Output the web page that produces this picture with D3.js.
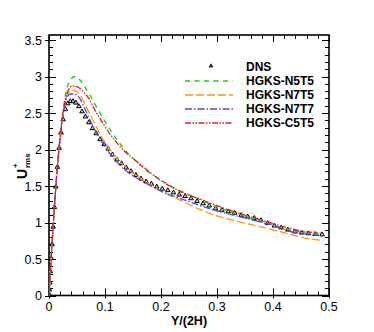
<!DOCTYPE html>
<html>
<head>
<meta charset="utf-8">
<script src="https://cdn.jsdelivr.net/npm/d3@7"></script>
<style>
  html, body { margin: 0; padding: 0; background: #fff; }
  svg { display: block; font-family: "Liberation Sans", Arial, sans-serif; }
</style>
</head>
<body>
<div id="chart"></div>
<script>
// DNS (triangles)
const dnsX = [0, 0.00015, 0.0006, 0.00135, 0.0024, 0.0038, 0.0054, 0.0074, 0.0096, 0.0121,
  0.0150, 0.0181, 0.0215, 0.0252, 0.0292, 0.0335, 0.0381, 0.0429, 0.0480, 0.0534,
  0.0590, 0.0650, 0.0711, 0.0776, 0.0843, 0.0912, 0.0984, 0.1058, 0.1135, 0.1214,
  0.1295, 0.1379, 0.1464, 0.1552, 0.1642, 0.1734, 0.1828, 0.1924, 0.2021, 0.2121,
  0.2222, 0.2325, 0.2430, 0.2536, 0.2643, 0.2752, 0.2862, 0.2974, 0.3087, 0.3201,
  0.3316, 0.3432, 0.3549, 0.3666, 0.3785, 0.3905, 0.4025, 0.4145, 0.4266, 0.4388,
  0.4510, 0.4632, 0.4755, 0.4877]
const dnsU = [0, 0.02, 0.08, 0.175, 0.33, 0.51, 0.70, 0.94, 1.21, 1.49,
  1.76, 2.02, 2.23, 2.41, 2.55, 2.63, 2.66, 2.66, 2.64, 2.59,
  2.52, 2.45, 2.37, 2.29, 2.22, 2.14, 2.07, 2.01, 1.93, 1.86,
  1.81, 1.75, 1.70, 1.65, 1.60, 1.56, 1.53, 1.49, 1.46, 1.44,
  1.41, 1.38, 1.36, 1.33, 1.29, 1.26, 1.23, 1.19, 1.17, 1.15,
  1.13, 1.10, 1.08, 1.06, 1.03, 0.99, 0.955, 0.93, 0.90, 0.875,
  0.86, 0.85, 0.84, 0.835]

// HGKS-N5T5
const n5t5X = [0, 0.002, 0.004, 0.006, 0.008, 0.010, 0.012, 0.015, 0.018, 0.021, 0.025, 0.029, 0.032, 0.038,
  0.046, 0.053, 0.062, 0.074, 0.085, 0.097, 0.112, 0.127, 0.142, 0.157, 0.174, 0.192, 0.21, 0.227,
  0.245, 0.27, 0.30, 0.33, 0.36, 0.39, 0.42, 0.45, 0.47, 0.49]
const n5t5U = [0, 0.27, 0.53, 0.78, 1.02, 1.25, 1.47, 1.77, 2.03, 2.27, 2.52, 2.73, 2.84, 2.95,
  3.0, 2.97, 2.88, 2.73, 2.58, 2.42, 2.24, 2.08, 1.94, 1.83, 1.71, 1.62, 1.535, 1.46,
  1.40, 1.31, 1.21, 1.13, 1.06, 0.99, 0.92, 0.87, 0.845, 0.83]

// HGKS-N7T5
const n7t5X = [0, 0.002, 0.004, 0.006, 0.008, 0.010, 0.012, 0.015, 0.018, 0.021, 0.025, 0.029, 0.034,
  0.040, 0.048, 0.056, 0.068, 0.080, 0.094, 0.112, 0.130, 0.151, 0.169, 0.20, 0.233, 0.269, 0.304,
  0.34, 0.37, 0.40, 0.43, 0.455, 0.49]
const n7t5U = [0, 0.27, 0.53, 0.78, 1.02, 1.25, 1.47, 1.77, 2.02, 2.24, 2.49, 2.66, 2.77,
  2.81, 2.80, 2.74, 2.56, 2.38, 2.17, 1.97, 1.81, 1.67, 1.58, 1.43, 1.31, 1.18, 1.08,
  1.01, 0.955, 0.90, 0.84, 0.79, 0.755]

// HGKS-N7T7
const n7t7X = [0, 0.002, 0.004, 0.006, 0.008, 0.010, 0.012, 0.015, 0.018, 0.021, 0.025, 0.029, 0.033,
  0.038, 0.045, 0.053, 0.065, 0.0765, 0.091, 0.109, 0.127, 0.148, 0.17, 0.20, 0.23, 0.26, 0.29,
  0.32, 0.36, 0.40, 0.43, 0.46, 0.49]
const n7t7U = [0, 0.27, 0.53, 0.78, 1.02, 1.25, 1.47, 1.77, 2.02, 2.23, 2.47, 2.63, 2.72,
  2.76, 2.76, 2.72, 2.54, 2.35, 2.15, 1.94, 1.78, 1.65, 1.55, 1.43, 1.34, 1.26, 1.18,
  1.12, 1.04, 0.96, 0.88, 0.84, 0.815]

// HGKS-C5T5
const c5t5X = [0, 0.002, 0.004, 0.006, 0.008, 0.010, 0.012, 0.015, 0.018, 0.021, 0.025, 0.029, 0.034,
  0.041, 0.050, 0.059, 0.071, 0.082, 0.097, 0.115, 0.133, 0.151, 0.169, 0.195, 0.233, 0.27, 0.30,
  0.33, 0.36, 0.39, 0.42, 0.45, 0.47, 0.49]
const c5t5U = [0, 0.27, 0.53, 0.78, 1.02, 1.25, 1.47, 1.77, 2.02, 2.25, 2.50, 2.68, 2.80,
  2.87, 2.86, 2.81, 2.70, 2.54, 2.35, 2.15, 1.99, 1.87, 1.76, 1.60, 1.43, 1.32, 1.23,
  1.15, 1.08, 1.01, 0.94, 0.885, 0.865, 0.85]

const xTicks = [0, 0.1, 0.2, 0.3, 0.4, 0.5]
const yTicks = [0, 0.5, 1, 1.5, 2, 2.5, 3, 3.5]
const legendNames = ['DNS', 'HGKS-N5T5', 'HGKS-N7T5', 'HGKS-N7T7', 'HGKS-C5T5']

const zip = (xs, ys) => xs.map((x, i) => ({x, y: ys[i]}))

const series = [
  {name: legendNames[1], data: zip(n5t5X, n5t5U), color: '#10d010', dash: '5,4.5'},
  {name: legendNames[2], data: zip(n7t5X, n7t5U), color: '#ff9410', dash: '8,3'},
  {name: legendNames[3], data: zip(n7t7X, n7t7U), color: '#4a4aff', dash: '7,2,1.5,2'},
  {name: legendNames[4], data: zip(c5t5X, c5t5U), color: '#e81c1c', dash: '6,1.5,1.5,1.5,1.5,1.5'}
]
const dns = zip(dnsX, dnsU)

const width = 374, height = 332
const pLeft = 49, pRight = 329, pTop = 35, pBottom = 295.5

const x = d3.scaleLinear().domain([0, 0.5]).range([pLeft, pRight])
const y = d3.scaleLinear().domain([0, 3.5]).range([pBottom, 40])

const svg = d3.select('#chart').append('svg')
  .attr('width', width).attr('height', height)

svg.append('defs').append('clipPath').attr('id', 'clip')
  .append('rect').attr('x', pLeft).attr('y', pTop)
  .attr('width', pRight - pLeft).attr('height', pBottom - pTop)

// ticks
const xMinor = d3.range(0, 0.5001, 0.02)
const yMinor = d3.range(0, 3.5601, 0.1)
const tickG = svg.append('g').attr('stroke', '#000').attr('stroke-width', 1)

xMinor.forEach(v => {
  const major = xTicks.some(t => Math.abs(t - v) < 1e-6)
  const len = major ? 7 : 4
  const px = Math.round(x(v)) + 0.5
  tickG.append('line').attr('x1', px).attr('x2', px).attr('y1', pBottom).attr('y2', pBottom - len)
  tickG.append('line').attr('x1', px).attr('x2', px).attr('y1', pTop).attr('y2', pTop + len)
  if (major) tickG.append('line').attr('x1', px).attr('x2', px).attr('y1', pBottom).attr('y2', pBottom + 3)
})
yMinor.forEach(v => {
  const major = yTicks.some(t => Math.abs(t - v) < 1e-6)
  const len = major ? 7 : 4
  const py = Math.round(y(v)) + 0.5
  tickG.append('line').attr('x1', pLeft).attr('x2', pLeft + len).attr('y1', py).attr('y2', py)
  tickG.append('line').attr('x1', pRight).attr('x2', pRight - len).attr('y1', py).attr('y2', py)
  if (major) tickG.append('line').attr('x1', pLeft).attr('x2', pLeft - 4).attr('y1', py).attr('y2', py)
})

// frame
svg.append('rect')
  .attr('x', pLeft).attr('y', pTop)
  .attr('width', pRight - pLeft).attr('height', pBottom - pTop)
  .attr('fill', 'none').attr('stroke', '#000').attr('stroke-width', 1.6)

// tick labels
svg.append('g').selectAll('text').data(xTicks).join('text')
  .attr('x', d => x(d)).attr('y', 311)
  .attr('text-anchor', 'middle').attr('font-size', 12.5)
  .text(d => d)
svg.append('g').selectAll('text').data(yTicks).join('text')
  .attr('x', 42).attr('y', d => y(d) + 4.5)
  .attr('text-anchor', 'end').attr('font-size', 12.5)
  .text(d => d)

// axis titles
svg.append('text').attr('x', 189).attr('y', 325)
  .attr('text-anchor', 'middle').attr('font-size', 12.5).attr('font-weight', 'bold')
  .text('Y/(2H)')

const yt = svg.append('g').attr('transform', 'translate(27,179) rotate(-90)')
yt.append('text').attr('x', 0).attr('y', 0)
  .attr('font-size', 14).attr('font-weight', 'bold').text('U')
yt.append('text').attr('x', 11).attr('y', 3)
  .attr('font-size', 8).attr('font-weight', 'bold').text('rms')
yt.append('text').attr('x', 11).attr('y', -9)
  .attr('font-size', 8).attr('font-weight', 'bold').text('+')

// data
const plot = svg.append('g').attr('clip-path', 'url(#clip)')
const tri = d3.symbol().type(d3.symbolTriangle).size(9)

plot.append('g').selectAll('path').data(dns).join('path')
  .attr('transform', d => `translate(${x(d.x)},${y(d.y)})`)
  .attr('d', tri)
  .attr('fill', '#ccc').attr('stroke', '#000').attr('stroke-width', 1)

const line = d3.line().x(d => x(d.x)).y(d => y(d.y)).curve(d3.curveMonotoneX)
plot.append('g').selectAll('path').data(series).join('path')
  .attr('d', d => line(d.data))
  .attr('fill', 'none')
  .attr('stroke', d => d.color)
  .attr('stroke-width', 1.3)
  .attr('stroke-dasharray', d => d.dash)

// legend
const leg = svg.append('g')
const rowY = i => 66 + i * 14
leg.append('path')
  .attr('transform', `translate(211,${rowY(0)})`)
  .attr('d', d3.symbol().type(d3.symbolTriangle).size(6))
  .attr('fill', '#555').attr('stroke', '#000').attr('stroke-width', 0.8)
series.forEach((s, i) => {
  leg.append('line')
    .attr('x1', 185).attr('x2', 233)
    .attr('y1', rowY(i + 1) + 1).attr('y2', rowY(i + 1) + 1)
    .attr('stroke', s.color).attr('stroke-width', 1.3)
    .attr('stroke-dasharray', s.dash)
})
leg.selectAll('text').data(legendNames).join('text')
  .attr('x', 246).attr('y', (d, i) => rowY(i) + 4.5)
  .attr('font-size', 12).attr('font-weight', 'bold')
  .text(d => d)
</script>
</body>
</html>
